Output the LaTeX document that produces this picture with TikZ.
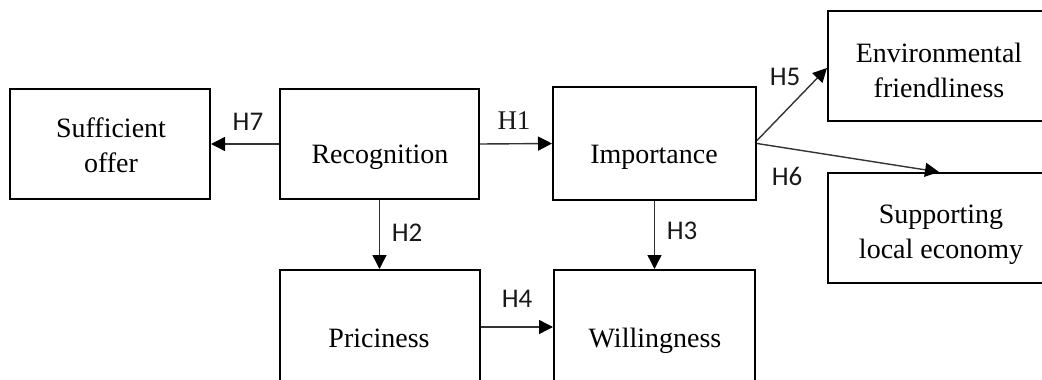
\documentclass[tikz,border=0pt]{standalone}
\usepackage{fontspec}
\setmainfont{Liberation Serif}
\newfontfamily\hfont{Carlito}
\usetikzlibrary{arrows.meta}

\begin{document}
\begin{tikzpicture}[x=1pt,y=-1pt,
  box/.style={draw=black, line width=2pt, inner sep=0pt, minimum height=110pt},
  txt/.style={font=\fontsize{28}{35}\selectfont, align=center, inner sep=0pt, anchor=base},
  hyp/.style={font=\hfont\fontsize{27}{30}\selectfont, inner sep=0pt, text=black!90},
  link/.style={draw=black!80, line width=1.4pt,
    -{Triangle[length=14pt,width=14pt,color=black,fill=black]}}]
  \useasboundingbox (0,0) rectangle (1042,380);
  \clip (0,0) rectangle (1042,380);

  % constructs
  \node[box, minimum width=200pt] (suf) at (110,144) {};
  \node[box, minimum width=199pt] (rec) at (379.5,144) {};
  \node[box, minimum width=203pt, minimum height=113pt] (imp) at (654.5,143.5) {};
  \node[box, minimum width=222pt] (env) at (939,66) {};
  \node[box, minimum width=222pt] (sup) at (939,228) {};
  \node[box, minimum width=200pt, minimum height=114pt] (pri) at (379.5,327) {};
  \node[box, minimum width=201pt, minimum height=114pt] (wil) at (654.5,327) {};

  % construct names (base = baseline of the last line)
  \node[txt] (suf-t) at (111,172) {Sufficient\\offer};
  \node[txt] (rec-t) at (380,163) {Recognition};
  \node[txt] (imp-t) at (654,163) {Importance};
  \node[txt] (env-t) at (939,97) {Environmental\\friendliness};
  \node[txt] (sup-t) at (941,258) {Supporting\\local economy};
  \node[txt] (pri-t) at (379,347) {Priciness};
  \node[txt] (wil-t) at (655,347) {Willingness};

  % hypothesised paths
  \draw[link] (rec.west) -- (suf.east)
    node[hyp] (h7) at (248,122) {H7};
  \draw[link] (rec.east) -- (imp.west)
    node[hyp, font=\fontsize{27}{30}\selectfont] (h1) at (514,121) {H1};
  \draw[link] (rec.south) -- (pri.north)
    node[hyp] (h2) at (407,233) {H2};
  \draw[link] (imp.south) -- (wil.north)
    node[hyp] (h3) at (682,231) {H3};
  \draw[link] (pri.east) -- (wil.west)
    node[hyp] (h4) at (517,299) {H4};
  \draw[link] ([yshift=3pt]imp.east) -- ([yshift=-2pt]env.west)
    node[hyp] (h5) at (785,77) {H5};
  \draw[link] (imp.east) -- (sup.north)
    node[hyp] (h6) at (787,176) {H6};
\end{tikzpicture}
\end{document}
